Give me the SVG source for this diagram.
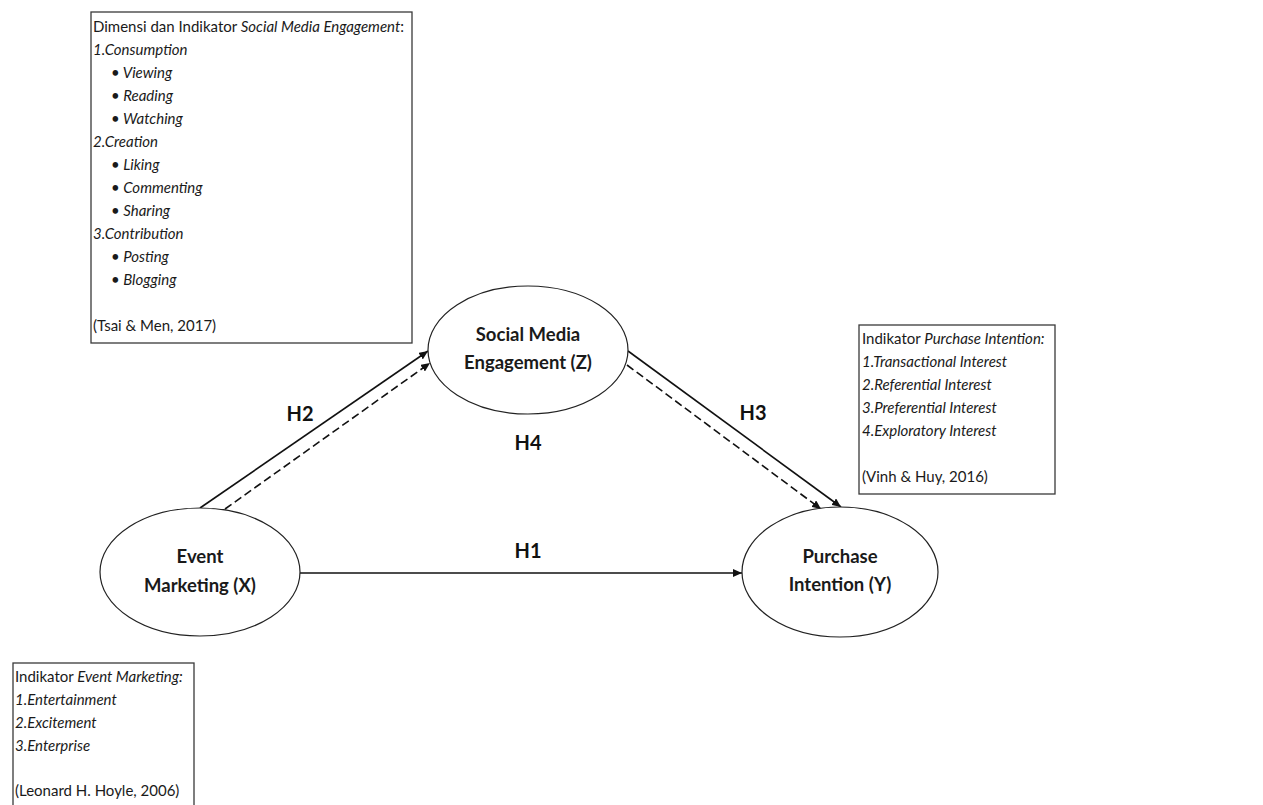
<svg xmlns="http://www.w3.org/2000/svg" width="1263" height="805" viewBox="0 0 1263 805">
<style>
.box{fill:#fff;stroke:#3a3a3a;stroke-width:1.3}
.ell{fill:#fff;stroke:#222;stroke-width:1.2}
.t{font-family:Lato,"Open Sans",sans-serif;font-size:15px;fill:#1a1a1a}
.i{font-style:italic}
.n{font-family:Lato,"Open Sans",sans-serif;font-size:18.5px;font-weight:bold;fill:#1a1a1a;text-anchor:middle}
.h{font-family:Lato,"Open Sans",sans-serif;font-size:20px;font-weight:bold;fill:#111;text-anchor:middle}
.c{stroke:#111;stroke-width:1.6;fill:none}
.d{stroke-dasharray:8 4}
</style>
<defs>
<marker id="ah" markerUnits="userSpaceOnUse" markerWidth="10" markerHeight="8" refX="9" refY="4" orient="auto">
<path d="M0,0 L9,4 L0,8 Z" fill="#111"/>
</marker>
</defs>
<rect width="1263" height="805" fill="#fff"/>

<g id="connectors">
<line class="c" x1="200" y1="508" x2="428" y2="351" marker-end="url(#ah)"/>
<line class="c d" x1="225" y1="509" x2="430" y2="363" marker-end="url(#ah)"/>
<line class="c" x1="628" y1="351" x2="841" y2="507" marker-end="url(#ah)"/>
<line class="c d" x1="627" y1="365" x2="821" y2="509" marker-end="url(#ah)"/>
<line class="c" x1="300" y1="573" x2="742" y2="573" marker-end="url(#ah)"/>
</g>

<g id="labels">
<text class="h" x="300" y="421">H2</text>
<text class="h" x="753" y="420">H3</text>
<text class="h" x="528" y="450">H4</text>
<text class="h" x="528" y="558">H1</text>
</g>

<g id="box-sme">
<rect class="box" x="91" y="12" width="321" height="331"/>
<text class="t" x="93" y="32">Dimensi dan Indikator <tspan class="i">Social Media Engagement</tspan>:</text>
<text class="t i" x="93" y="55">1.Consumption</text>
<text class="t i" x="111" y="78">•  Viewing</text>
<text class="t i" x="111" y="101">•  Reading</text>
<text class="t i" x="111" y="124">•  Watching</text>
<text class="t i" x="93" y="147">2.Creation</text>
<text class="t i" x="111" y="170">•  Liking</text>
<text class="t i" x="111" y="193">•  Commenting</text>
<text class="t i" x="111" y="216">•  Sharing</text>
<text class="t i" x="93" y="239">3.Contribution</text>
<text class="t i" x="111" y="262">•  Posting</text>
<text class="t i" x="111" y="285">•  Blogging</text>
<text class="t" x="93" y="331">(Tsai &amp; Men, 2017)</text>
</g>

<g id="box-pi">
<rect class="box" x="859" y="325" width="196" height="169"/>
<text class="t" x="862" y="344">Indikator <tspan class="i">Purchase Intention:</tspan></text>
<text class="t i" x="862" y="367">1.Transactional Interest</text>
<text class="t i" x="862" y="390">2.Referential Interest</text>
<text class="t i" x="862" y="413">3.Preferential Interest</text>
<text class="t i" x="862" y="436">4.Exploratory Interest</text>
<text class="t" x="862" y="482">(Vinh &amp; Huy, 2016)</text>
</g>

<g id="box-em">
<rect class="box" x="13" y="663" width="181" height="160"/>
<text class="t" x="15" y="682">Indikator <tspan class="i">Event Marketing:</tspan></text>
<text class="t i" x="15" y="705">1.Entertainment</text>
<text class="t i" x="15" y="728">2.Excitement</text>
<text class="t i" x="15" y="751">3.Enterprise</text>
<text class="t" x="15" y="796">(Leonard H. Hoyle, 2006)</text>
</g>

<g id="node-z">
<ellipse class="ell" cx="528" cy="350" rx="100" ry="64"/>
<text class="n" x="528" y="341">Social Media</text>
<text class="n" x="528" y="369">Engagement (Z)</text>
</g>

<g id="node-x">
<ellipse class="ell" cx="200" cy="572" rx="100" ry="64"/>
<text class="n" x="200" y="563">Event</text>
<text class="n" x="200" y="592">Marketing (X)</text>
</g>

<g id="node-y">
<ellipse class="ell" cx="840" cy="572" rx="98" ry="65"/>
<text class="n" x="840" y="563">Purchase</text>
<text class="n" x="840" y="591">Intention (Y)</text>
</g>
</svg>
